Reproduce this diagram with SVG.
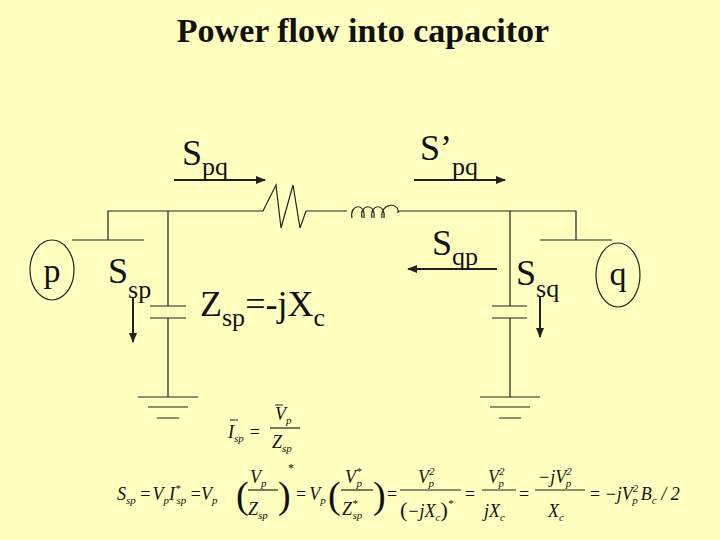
<svg xmlns="http://www.w3.org/2000/svg" width="720" height="540" viewBox="0 0 720 540">
<defs><marker id="ah" markerWidth="10" markerHeight="8" refX="9" refY="4" orient="auto" markerUnits="userSpaceOnUse"><path d="M0,0 L10,4 L0,8 Z" fill="#222"/></marker></defs>
<style>
.w{stroke:#222;stroke-width:1.2;fill:none}
.a{stroke:#222;stroke-width:2;fill:none;marker-end:url(#ah)}
.t{font-family:"Liberation Serif","Times New Roman",serif;fill:#111}
.m{font-family:"Liberation Serif","Times New Roman",serif;font-style:italic;fill:#111;font-size:18px}
.s{font-size:11px}
.n{font-style:normal}
</style>
<rect width="720" height="540" fill="#ffffc0"/>
<text class="t" x="363" y="42" font-size="34" font-weight="bold" text-anchor="middle">Power flow into capacitor</text>
<g id="network" class="w">
<path d="M108,240 V211 H263 L276,185 L281,228 L293,185 L300,228 L306,211 H347"/>
<path d="M352,218 c-3,-14 14,-16 12,0 M362,218 c-3,-14 14,-16 12,0 M372,218 c-3,-14 14,-16 12,0 M382,218 c-2,-16 18,-16 16,-5 c0,-1 0,-2 2,-2"/>
<path d="M400,211 H576 V240"/>
<path d="M72,240 H144 M540,240 H612"/>
<path d="M168,211 V306 M150,306 H186 M150,318 H186 M168,318 V397 M138,397 H198 M148,407 H188 M157,418 H179"/>
<path d="M510,211 V306 M492,306 H527 M492,318 H527 M510,318 V397 M480,397 H540 M490,407 H530 M499,418 H521"/>
</g>
<g id="p"><ellipse class="w" cx="52" cy="270" rx="22" ry="30"/><text class="t" x="52" y="282" font-size="34" text-anchor="middle">p</text></g>
<g id="q"><ellipse class="w" cx="618" cy="275" rx="22" ry="32"/><text class="t" x="618" y="285" font-size="34" text-anchor="middle">q</text></g>
<g id="connectors">
<path class="a" d="M174,180 H265"/>
<path class="a" d="M414,180 H505"/>
<path class="a" d="M497,269 H408"/>
<path class="a" d="M133,298 V342"/>
<path class="a" d="M540,297 V337"/>
</g>
<g id="labels">
<text class="t" font-size="36" x="182" y="165">S<tspan font-size="26" dy="10">pq</tspan></text>
<text class="t" font-size="36" x="420" y="160">S’<tspan font-size="26" dy="15">pq</tspan></text>
<text class="t" font-size="36" x="432" y="255">S<tspan font-size="26" dy="10">qp</tspan></text>
<text class="t" font-size="36" x="108" y="283">S<tspan font-size="26" dy="15">sp</tspan></text>
<text class="t" font-size="36" x="516" y="285">S<tspan font-size="26" dy="12">sq</tspan></text>
<text class="t" font-size="36" x="200" y="316">Z<tspan font-size="26" dy="10">sp</tspan><tspan dy="-10">=-jX</tspan><tspan font-size="26" dy="10">c</tspan></text>
</g>
<g id="eq1">
<text class="m" x="228" y="438">I<tspan class="s" dy="4">sp</tspan><tspan class="n" dy="-4" dx="6">=</tspan></text>
<path class="w" d="M230,420 h8 M275,405 h8"/>
<text class="m" x="275" y="420">V<tspan class="s" dy="4">p</tspan></text>
<path class="w" d="M270,428 h30" stroke-width="1"/>
<text class="m" x="272" y="448">Z<tspan class="s" dy="4">sp</tspan></text>
</g>
<g id="eq2">
<text class="m" x="117" y="500">S<tspan class="s" dy="4">sp</tspan><tspan class="n" dy="-4"> =</tspan><tspan dx="2">V</tspan><tspan class="s" dy="4">p</tspan><tspan dy="-4">I</tspan><tspan class="s" dy="-8">*</tspan><tspan class="s" dy="12" dx="-4">sp</tspan><tspan class="n" dy="-4"> =</tspan><tspan>V</tspan><tspan class="s" dy="4">p</tspan></text>
<text class="t" x="236" y="508" font-size="38">(</text>
<text class="m" x="250" y="483">V<tspan class="s" dy="4">p</tspan></text>
<path class="w" d="M248,490 h30"/>
<text class="m" x="248" y="515">Z<tspan class="s" dy="4">sp</tspan></text>
<text class="t" x="278" y="508" font-size="38">)</text>
<text class="t" x="288" y="472" font-size="12">*</text>
<text class="m" x="296" y="500"><tspan class="n">=</tspan><tspan dx="3">V</tspan><tspan class="s" dy="4">p</tspan></text>
<text class="t" x="328" y="508" font-size="38">(</text>
<text class="m" x="345" y="483">V<tspan class="s" dy="-8">*</tspan><tspan class="s" dy="12" dx="-5">p</tspan></text>
<path class="w" d="M341,490 h32"/>
<text class="m" x="342" y="515">Z<tspan class="s" dy="-8">*</tspan><tspan class="s" dy="12" dx="-5">sp</tspan></text>
<text class="t" x="373" y="508" font-size="38">)</text>
<text class="m n" x="387" y="500">=</text>
<text class="m" x="418" y="483">V<tspan class="s" dy="-8">2</tspan><tspan class="s" dy="12" dx="-6">p</tspan></text>
<path class="w" d="M400,490 h61"/>
<text class="m" x="400" y="517"><tspan class="n" font-size="22">(</tspan>−jX<tspan class="s" dy="4">c</tspan><tspan class="n" font-size="22" dy="-4">)</tspan><tspan class="s" dy="-10">*</tspan></text>
<text class="m n" x="465" y="500">=</text>
<text class="m" x="488" y="483">V<tspan class="s" dy="-8">2</tspan><tspan class="s" dy="12" dx="-6">p</tspan></text>
<path class="w" d="M482,490 h34"/>
<text class="m" x="484" y="517">jX<tspan class="s" dy="4">c</tspan></text>
<text class="m n" x="519" y="500">=</text>
<text class="m" x="538" y="483">−jV<tspan class="s" dy="-8">2</tspan><tspan class="s" dy="12" dx="-6">p</tspan></text>
<path class="w" d="M535,490 h50"/>
<text class="m" x="548" y="517">X<tspan class="s" dy="4">c</tspan></text>
<text class="m" x="590" y="500"><tspan class="n">=</tspan> −jV<tspan class="s" dy="-8">2</tspan><tspan class="s" dy="12" dx="-6">p</tspan><tspan dy="-4" dx="3">B</tspan><tspan class="s" dy="4">c</tspan><tspan dy="-4"> / 2</tspan></text>
</g>
</svg>
